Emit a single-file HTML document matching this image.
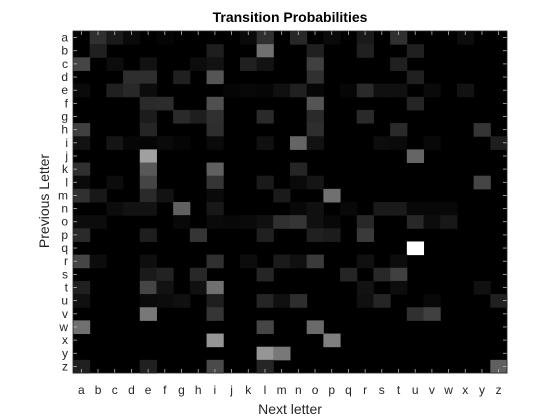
<!DOCTYPE html>
<html><head><meta charset="utf-8"><style>
body{margin:0;background:#fff;}
svg{display:block;font-family:"Liberation Sans",sans-serif;}
</style></head><body>
<svg id="chart" width="560" height="420">
<text x="290" y="22" text-anchor="middle" font-size="14" font-weight="bold" fill="#000">Transition Probabilities</text>
<text x="290" y="414" text-anchor="middle" font-size="14" fill="#262626">Next letter</text>
<text x="0" y="0" transform="translate(49,201) rotate(-90)" text-anchor="middle" font-size="14" fill="#262626">Previous Letter</text>
<g id="cells"></g><g id="axes"></g>
</svg>
<script>
const letters = "abcdefghijklmnopqrstuvwxyz".split("");
const rowsData = [
[0,48,26,10,0,5,0,0,0,0,10,48,0,40,0,10,0,26,0,48,0,0,0,12,0,0],
[0,32,0,0,0,0,0,0,30,0,0,112,0,0,32,0,0,32,0,0,32,0,0,0,0,0],
[69,0,12,0,18,0,0,12,18,0,32,18,0,0,64,0,0,0,0,32,0,0,0,0,0,0],
[0,0,0,46,46,0,32,0,85,0,0,0,0,0,48,0,0,0,0,0,32,0,0,0,0,0],
[10,0,32,40,12,0,0,0,0,5,8,6,16,32,6,0,6,42,16,16,0,10,0,18,0,0],
[0,0,0,0,42,44,0,0,80,0,0,0,0,0,85,0,0,0,0,0,37,0,0,0,0,0],
[0,0,0,0,28,0,42,30,48,0,0,42,0,0,42,0,0,42,0,0,0,0,0,0,0,0],
[64,0,0,0,37,0,0,0,46,0,0,0,0,0,46,0,0,0,0,42,0,0,0,0,53,0],
[18,0,21,6,5,10,5,0,10,0,0,16,0,101,18,0,0,0,12,10,0,8,0,0,0,30],
[0,0,0,0,160,0,0,0,0,0,0,0,0,0,0,0,0,0,0,0,101,0,0,0,0,0],
[48,0,0,0,88,0,0,0,96,0,0,0,0,37,0,0,0,0,0,0,0,0,0,0,0,0],
[10,0,12,0,69,0,0,0,53,0,0,26,0,10,21,0,0,0,0,0,0,0,0,0,69,0],
[48,24,0,0,42,18,0,0,10,0,0,0,26,0,0,112,0,0,0,0,0,0,0,0,0,0],
[0,0,12,18,18,0,96,0,24,0,0,0,0,8,16,0,8,0,26,26,8,8,8,0,0,0],
[12,12,0,0,0,0,8,0,10,8,10,16,48,53,16,8,0,40,0,0,40,12,24,0,0,0],
[42,0,0,0,30,0,0,53,0,0,0,32,0,0,32,28,0,58,0,0,0,0,0,0,0,0],
[0,0,0,0,0,0,0,0,0,0,0,0,0,0,0,0,0,0,0,0,255,0,0,0,0,0],
[69,12,0,0,14,0,0,0,48,0,12,0,26,16,58,0,0,16,0,12,0,0,0,0,0,0],
[0,0,0,0,26,34,0,40,0,0,0,37,0,0,0,0,37,0,40,64,0,0,0,0,0,0],
[32,0,0,0,69,18,0,16,112,0,0,0,0,0,0,0,0,18,0,12,0,0,0,0,16,0],
[16,0,0,0,10,12,16,0,30,0,0,37,16,46,0,0,0,16,37,0,0,8,0,0,0,32],
[0,0,0,0,120,0,0,0,53,0,0,0,0,0,0,0,0,0,0,0,48,64,0,0,0,0],
[112,0,0,0,0,0,0,0,0,0,0,69,0,0,106,0,0,0,0,0,0,0,0,0,0,0],
[0,0,0,0,0,0,0,0,149,0,0,0,0,0,0,128,0,0,0,0,0,0,0,0,0,0],
[0,0,0,0,0,0,0,0,0,0,0,149,120,0,0,0,0,0,0,0,0,0,0,0,0,0],
[32,0,0,0,32,0,0,0,74,0,0,37,0,0,0,0,0,0,0,0,0,0,0,0,0,96]
];
const NS="http://www.w3.org/2000/svg";
const X0=73,X1=507,Y0=31,Y1=373;
const cw=(X1-X0)/letters.length, ch=(Y1-Y0)/letters.length;
const xs=i=>X0+i*cw, ys=i=>Y0+i*ch;
let mx=0; rowsData.forEach(r=>r.forEach(v=>{if(v>mx)mx=v;}));
const cells=document.getElementById("cells");
const bg=document.createElementNS(NS,"rect");
bg.setAttribute("x",X0);bg.setAttribute("y",Y0);bg.setAttribute("width",X1-X0);bg.setAttribute("height",Y1-Y0);bg.setAttribute("fill","#000");


cells.appendChild(bg);
rowsData.forEach((row,r)=>row.forEach((v,c)=>{
  if(v<=0)return;
  const g=Math.round(v/mx*255);
  const e=document.createElementNS(NS,"rect");
  e.setAttribute("x",xs(c));e.setAttribute("y",ys(r));
  e.setAttribute("width",cw+0.5);e.setAttribute("height",ch+0.5);
  e.setAttribute("fill",`rgb(${g},${g},${g})`);
  
  
  cells.appendChild(e);
}));
const axes=document.getElementById("axes");
let h='';
letters.forEach((l,i)=>{
  const cx=xs(i)+cw/2, cy=ys(i)+ch/2;
  h+=`<line x1="${cx}" y1="${Y1}" x2="${cx}" y2="${Y1-4}" stroke="#bbb" stroke-width="0.8"/>`;
  h+=`<line x1="${cx}" y1="${Y0}" x2="${cx}" y2="${Y0+4}" stroke="#bbb" stroke-width="0.8"/>`;
  h+=`<line x1="${X0}" y1="${cy}" x2="${X0+4}" y2="${cy}" stroke="#bbb" stroke-width="0.8"/>`;
  h+=`<line x1="${X1}" y1="${cy}" x2="${X1-4}" y2="${cy}" stroke="#bbb" stroke-width="0.8"/>`;
  h+=`<text x="${cx}" y="${Y1+21}" text-anchor="middle" font-size="12" fill="#262626">${l}</text>`;
  h+=`<text x="${X0-5}" y="${cy+4}" text-anchor="end" font-size="12" fill="#262626">${l}</text>`;
});
h+=`<rect x="${X0}" y="${Y0}" width="${X1-X0}" height="${Y1-Y0}" fill="none" stroke="#262626" stroke-width="0.8"/>`;
axes.innerHTML=h;
</script>
</body></html>
